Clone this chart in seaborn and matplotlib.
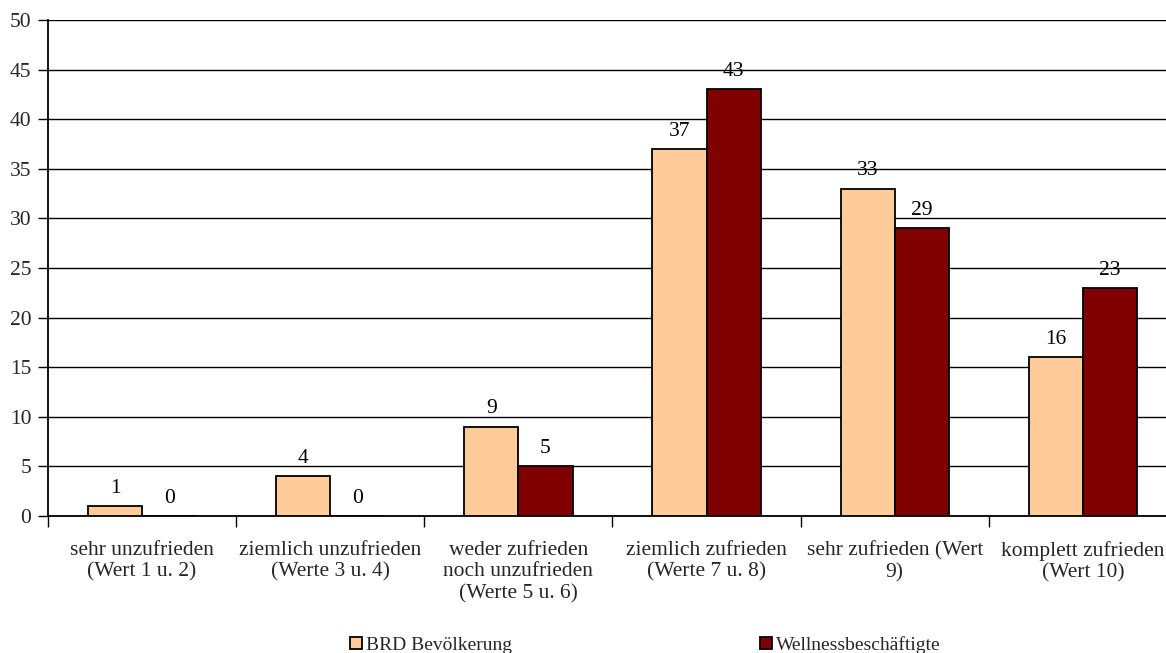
import matplotlib
matplotlib.use("Agg")
import matplotlib.pyplot as plt
import seaborn as sns
import pandas as pd

categories = [
    "sehr unzufrieden\n(Wert 1 u. 2)",
    "ziemlich unzufrieden\n(Werte 3 u. 4)",
    "weder zufrieden\nnoch unzufrieden\n(Werte 5 u. 6)",
    "ziemlich zufrieden\n(Werte 7 u. 8)",
    "sehr zufrieden (Wert\n9)",
    "komplett zufrieden\n(Wert 10)",
]
series_names = ["BRD Bevölkerung", "Wellnessbeschäftigte"]
brd_values = [1, 4, 9, 37, 33, 16]
wellness_values = [0, 0, 5, 43, 29, 23]
y_ticks = [0, 5, 10, 15, 20, 25, 30, 35, 40, 45, 50]

colors = ["#FFCC99", "#800000"]

df = pd.DataFrame({
    "Kategorie": categories * 2,
    "Gruppe": [series_names[0]] * len(categories) + [series_names[1]] * len(categories),
    "Wert": brd_values + wellness_values,
})

sns.set_style("white")
plt.rcParams["font.family"] = ["Liberation Serif", "DejaVu Serif"]

FS = 15.5

fig = plt.figure(figsize=(11.66, 6.53), dpi=100)
ax = fig.add_axes([48 / 1166, 1 - 516 / 653, (1177 - 48) / 1166, (516 - 20) / 653])

sns.barplot(
    data=df, x="Kategorie", y="Wert", hue="Gruppe",
    order=categories, hue_order=series_names,
    palette=colors, width=0.575, edgecolor="black", linewidth=1.3,
    saturation=1, ax=ax, zorder=3,
)

for container in ax.containers:
    ax.bar_label(container, padding=6, fontsize=FS, color="black")

ax.set_ylim(0, 50)
ax.set_yticks(y_ticks)
ax.set_yticklabels([str(v) for v in y_ticks], fontsize=FS)
ax.yaxis.grid(True, color="black", linewidth=1.0, zorder=0)
ax.set_axisbelow(True)

# Group boundaries get tick marks, group centres get the labels
n = len(categories)
ax.set_xlim(-0.5, n - 0.5)
ax.set_xticks([i - 0.5 for i in range(n + 1)])
ax.set_xticklabels([""] * (n + 1))
ax.set_xticks(list(range(n)), minor=True)
ax.set_xticklabels(categories, minor=True, fontsize=FS, linespacing=1.17)
ax.tick_params(axis="x", which="major", direction="out", length=8, width=1, color="black", bottom=True)
ax.tick_params(axis="x", which="minor", length=0, pad=18)
ax.tick_params(axis="y", direction="out", length=7, width=1, color="black", left=True, pad=5)
ax.set_xlabel("")
ax.set_ylabel("")

for side in ["top", "right"]:
    ax.spines[side].set_visible(False)
for side in ["left", "bottom"]:
    ax.spines[side].set_color("black")
    ax.spines[side].set_linewidth(1.3)

handles, labels = ax.get_legend_handles_labels()
ax.get_legend().remove()
fig.legend(
    handles, labels, loc="center left", bbox_to_anchor=(350 / 1166, 1 - 645 / 653),
    ncol=2, frameon=False, fontsize=14, handlelength=0.6, handleheight=0.6,
    handletextpad=0.2, columnspacing=12.8, borderaxespad=0, borderpad=0,
)

fig.savefig("out.png", dpi=100)
